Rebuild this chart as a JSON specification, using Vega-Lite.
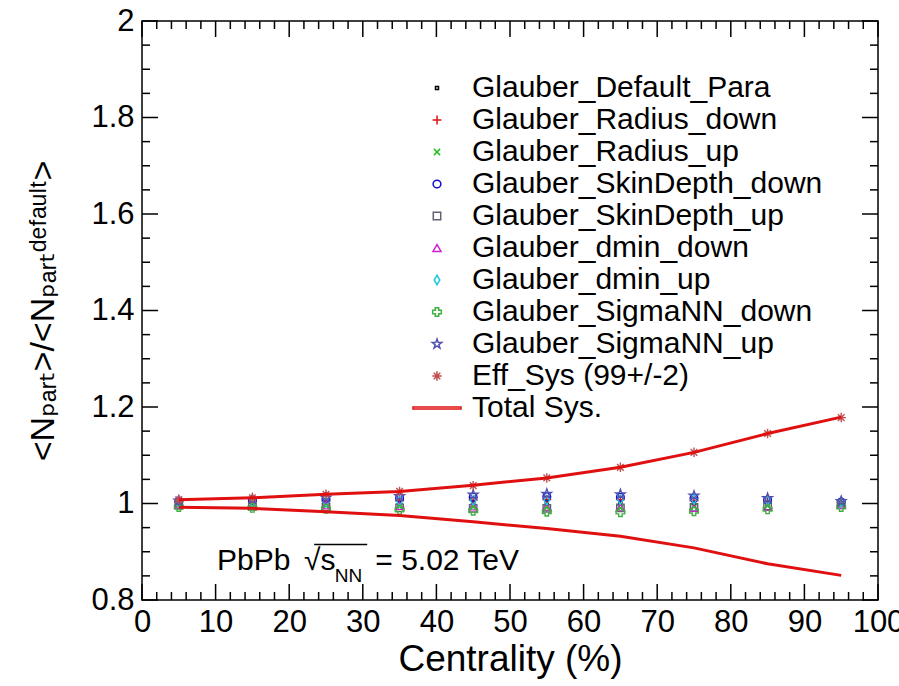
{
  "$schema": "https://vega.github.io/schema/vega-lite/v6.json",
  "width": 736,
  "height": 579,
  "autosize": {"type": "none"},
  "padding": {"left": 142, "top": 21, "right": 21, "bottom": 86},
  "background": "white",
  "config": {
    "font": "Liberation Sans",
    "view": {"stroke": "black", "strokeWidth": 1.5},
    "axis": {
      "domain": false,
      "ticks": false,
      "grid": false,
      "labelFont": "Liberation Sans",
      "labelFontSize": 31,
      "labelColor": "black",
      "titleFont": "Liberation Sans, DejaVu Sans",
      "titleFontSize": 37,
      "titleFontWeight": "normal",
      "titleColor": "black"
    },
    "legend": {
      "labelFont": "Liberation Sans",
      "labelFontSize": 30,
      "labelColor": "black",
      "labelLimit": 600,
      "rowPadding": 2
    }
  },
  "datasets": {
    "points": [
      {"series": "Glauber_Default_Para", "cent": 5, "val": 1.0},
      {"series": "Glauber_Default_Para", "cent": 15, "val": 1.0},
      {"series": "Glauber_Default_Para", "cent": 25, "val": 1.0},
      {"series": "Glauber_Default_Para", "cent": 35, "val": 1.0},
      {"series": "Glauber_Default_Para", "cent": 45, "val": 1.0},
      {"series": "Glauber_Default_Para", "cent": 55, "val": 1.0},
      {"series": "Glauber_Default_Para", "cent": 65, "val": 1.0},
      {"series": "Glauber_Default_Para", "cent": 75, "val": 1.0},
      {"series": "Glauber_Default_Para", "cent": 85, "val": 1.0},
      {"series": "Glauber_Default_Para", "cent": 95, "val": 1.0},
      {"series": "Glauber_Radius_down", "cent": 5, "val": 1.003},
      {"series": "Glauber_Radius_down", "cent": 15, "val": 1.004},
      {"series": "Glauber_Radius_down", "cent": 25, "val": 1.005},
      {"series": "Glauber_Radius_down", "cent": 35, "val": 1.006},
      {"series": "Glauber_Radius_down", "cent": 45, "val": 1.007},
      {"series": "Glauber_Radius_down", "cent": 55, "val": 1.008},
      {"series": "Glauber_Radius_down", "cent": 65, "val": 1.008},
      {"series": "Glauber_Radius_down", "cent": 75, "val": 1.006},
      {"series": "Glauber_Radius_down", "cent": 85, "val": 1.004},
      {"series": "Glauber_Radius_down", "cent": 95, "val": 1.002},
      {"series": "Glauber_Radius_up", "cent": 5, "val": 0.997},
      {"series": "Glauber_Radius_up", "cent": 15, "val": 0.996},
      {"series": "Glauber_Radius_up", "cent": 25, "val": 0.995},
      {"series": "Glauber_Radius_up", "cent": 35, "val": 0.994},
      {"series": "Glauber_Radius_up", "cent": 45, "val": 0.993},
      {"series": "Glauber_Radius_up", "cent": 55, "val": 0.992},
      {"series": "Glauber_Radius_up", "cent": 65, "val": 0.991},
      {"series": "Glauber_Radius_up", "cent": 75, "val": 0.993},
      {"series": "Glauber_Radius_up", "cent": 85, "val": 0.995},
      {"series": "Glauber_Radius_up", "cent": 95, "val": 0.998},
      {"series": "Glauber_SkinDepth_down", "cent": 5, "val": 1.005},
      {"series": "Glauber_SkinDepth_down", "cent": 15, "val": 1.007},
      {"series": "Glauber_SkinDepth_down", "cent": 25, "val": 1.009},
      {"series": "Glauber_SkinDepth_down", "cent": 35, "val": 1.011},
      {"series": "Glauber_SkinDepth_down", "cent": 45, "val": 1.013},
      {"series": "Glauber_SkinDepth_down", "cent": 55, "val": 1.014},
      {"series": "Glauber_SkinDepth_down", "cent": 65, "val": 1.013},
      {"series": "Glauber_SkinDepth_down", "cent": 75, "val": 1.011},
      {"series": "Glauber_SkinDepth_down", "cent": 85, "val": 1.007},
      {"series": "Glauber_SkinDepth_down", "cent": 95, "val": 1.003},
      {"series": "Glauber_SkinDepth_up", "cent": 5, "val": 0.996},
      {"series": "Glauber_SkinDepth_up", "cent": 15, "val": 0.994},
      {"series": "Glauber_SkinDepth_up", "cent": 25, "val": 0.992},
      {"series": "Glauber_SkinDepth_up", "cent": 35, "val": 0.991},
      {"series": "Glauber_SkinDepth_up", "cent": 45, "val": 0.99},
      {"series": "Glauber_SkinDepth_up", "cent": 55, "val": 0.99},
      {"series": "Glauber_SkinDepth_up", "cent": 65, "val": 0.991},
      {"series": "Glauber_SkinDepth_up", "cent": 75, "val": 0.992},
      {"series": "Glauber_SkinDepth_up", "cent": 85, "val": 0.995},
      {"series": "Glauber_SkinDepth_up", "cent": 95, "val": 0.998},
      {"series": "Glauber_dmin_down", "cent": 5, "val": 0.998},
      {"series": "Glauber_dmin_down", "cent": 15, "val": 0.997},
      {"series": "Glauber_dmin_down", "cent": 25, "val": 0.996},
      {"series": "Glauber_dmin_down", "cent": 35, "val": 0.995},
      {"series": "Glauber_dmin_down", "cent": 45, "val": 0.994},
      {"series": "Glauber_dmin_down", "cent": 55, "val": 0.993},
      {"series": "Glauber_dmin_down", "cent": 65, "val": 0.992},
      {"series": "Glauber_dmin_down", "cent": 75, "val": 0.991},
      {"series": "Glauber_dmin_down", "cent": 85, "val": 0.993},
      {"series": "Glauber_dmin_down", "cent": 95, "val": 0.997},
      {"series": "Glauber_dmin_up", "cent": 5, "val": 1.002},
      {"series": "Glauber_dmin_up", "cent": 15, "val": 1.003},
      {"series": "Glauber_dmin_up", "cent": 25, "val": 1.004},
      {"series": "Glauber_dmin_up", "cent": 35, "val": 1.005},
      {"series": "Glauber_dmin_up", "cent": 45, "val": 1.006},
      {"series": "Glauber_dmin_up", "cent": 55, "val": 1.007},
      {"series": "Glauber_dmin_up", "cent": 65, "val": 1.008},
      {"series": "Glauber_dmin_up", "cent": 75, "val": 1.009},
      {"series": "Glauber_dmin_up", "cent": 85, "val": 1.006},
      {"series": "Glauber_dmin_up", "cent": 95, "val": 1.003},
      {"series": "Glauber_SigmaNN_down", "cent": 5, "val": 0.993},
      {"series": "Glauber_SigmaNN_down", "cent": 15, "val": 0.991},
      {"series": "Glauber_SigmaNN_down", "cent": 25, "val": 0.989},
      {"series": "Glauber_SigmaNN_down", "cent": 35, "val": 0.987},
      {"series": "Glauber_SigmaNN_down", "cent": 45, "val": 0.985},
      {"series": "Glauber_SigmaNN_down", "cent": 55, "val": 0.983},
      {"series": "Glauber_SigmaNN_down", "cent": 65, "val": 0.982},
      {"series": "Glauber_SigmaNN_down", "cent": 75, "val": 0.984},
      {"series": "Glauber_SigmaNN_down", "cent": 85, "val": 0.988},
      {"series": "Glauber_SigmaNN_down", "cent": 95, "val": 0.993},
      {"series": "Glauber_SigmaNN_up", "cent": 5, "val": 1.006},
      {"series": "Glauber_SigmaNN_up", "cent": 15, "val": 1.009},
      {"series": "Glauber_SigmaNN_up", "cent": 25, "val": 1.012},
      {"series": "Glauber_SigmaNN_up", "cent": 35, "val": 1.015},
      {"series": "Glauber_SigmaNN_up", "cent": 45, "val": 1.018},
      {"series": "Glauber_SigmaNN_up", "cent": 55, "val": 1.02},
      {"series": "Glauber_SigmaNN_up", "cent": 65, "val": 1.019},
      {"series": "Glauber_SigmaNN_up", "cent": 75, "val": 1.016},
      {"series": "Glauber_SigmaNN_up", "cent": 85, "val": 1.011},
      {"series": "Glauber_SigmaNN_up", "cent": 95, "val": 1.005},
      {"series": "Eff_Sys (99+/-2)", "cent": 5, "val": 1.008},
      {"series": "Eff_Sys (99+/-2)", "cent": 15, "val": 1.012},
      {"series": "Eff_Sys (99+/-2)", "cent": 25, "val": 1.019},
      {"series": "Eff_Sys (99+/-2)", "cent": 35, "val": 1.025},
      {"series": "Eff_Sys (99+/-2)", "cent": 45, "val": 1.037},
      {"series": "Eff_Sys (99+/-2)", "cent": 55, "val": 1.053},
      {"series": "Eff_Sys (99+/-2)", "cent": 65, "val": 1.075},
      {"series": "Eff_Sys (99+/-2)", "cent": 75, "val": 1.106},
      {"series": "Eff_Sys (99+/-2)", "cent": 85, "val": 1.145},
      {"series": "Eff_Sys (99+/-2)", "cent": 95, "val": 1.178}
    ],
    "sys": [
      {"series": "Total Sys.", "bound": "up", "cent": 5, "val": 1.008},
      {"series": "Total Sys.", "bound": "up", "cent": 15, "val": 1.012},
      {"series": "Total Sys.", "bound": "up", "cent": 25, "val": 1.019},
      {"series": "Total Sys.", "bound": "up", "cent": 35, "val": 1.025},
      {"series": "Total Sys.", "bound": "up", "cent": 45, "val": 1.038},
      {"series": "Total Sys.", "bound": "up", "cent": 55, "val": 1.053},
      {"series": "Total Sys.", "bound": "up", "cent": 65, "val": 1.075},
      {"series": "Total Sys.", "bound": "up", "cent": 75, "val": 1.106},
      {"series": "Total Sys.", "bound": "up", "cent": 85, "val": 1.145},
      {"series": "Total Sys.", "bound": "up", "cent": 95, "val": 1.179},
      {"series": "Total Sys.", "bound": "down", "cent": 5, "val": 0.992},
      {"series": "Total Sys.", "bound": "down", "cent": 15, "val": 0.99},
      {"series": "Total Sys.", "bound": "down", "cent": 25, "val": 0.983},
      {"series": "Total Sys.", "bound": "down", "cent": 35, "val": 0.975},
      {"series": "Total Sys.", "bound": "down", "cent": 45, "val": 0.962},
      {"series": "Total Sys.", "bound": "down", "cent": 55, "val": 0.948},
      {"series": "Total Sys.", "bound": "down", "cent": 65, "val": 0.932},
      {"series": "Total Sys.", "bound": "down", "cent": 75, "val": 0.908},
      {"series": "Total Sys.", "bound": "down", "cent": 85, "val": 0.875},
      {"series": "Total Sys.", "bound": "down", "cent": 95, "val": 0.851}
    ]
  },
  "resolve": {"axis": {"x": "independent", "y": "independent"}},
  "layer": [
    {
      "data": {"name": "points"},
      "mark": {"type": "point", "filled": false, "opacity": 1, "strokeWidth": 1.4},
      "encoding": {
        "x": {
          "field": "cent", "type": "quantitative",
          "scale": {"domain": [0, 100], "nice": false, "zero": false},
          "axis": {
            "orient": "bottom",
            "title": "Centrality (%)",
            "values": [0,10,20,30,40,50,60,70,80,90,100],
            "tickSize": 0,
            "labelPadding": 7,
            "labelFlush": false,
            "labelOverlap": false,
            "titlePadding": 4
          }
        },
        "y": {
          "field": "val", "type": "quantitative",
          "scale": {"domain": [0.8, 2], "nice": false, "zero": false},
          "axis": {
            "orient": "left",
            "title": "<Nₚₐᵣₜ>/<Nₚₐᵣₜᵈᵉᶠᵃᵘˡᵗ>",
            "titleFontSize": 34,
            "values": [0.8,1,1.2,1.4,1.6,1.8,2],
            "labelExpr": "'' + datum.value",
            "tickSize": 0,
            "labelPadding": 8,
            "labelFlush": false,
            "labelOverlap": false,
            "titlePadding": 30
          }
        },
        "color": {
          "field": "series", "type": "nominal",
          "scale": {
            "domain": ["Glauber_Default_Para","Glauber_Radius_down","Glauber_Radius_up","Glauber_SkinDepth_down","Glauber_SkinDepth_up","Glauber_dmin_down","Glauber_dmin_up","Glauber_SigmaNN_down","Glauber_SigmaNN_up","Eff_Sys (99+/-2)","Total Sys."],
            "range": ["#000000","#e01010","#20c020","#1010d0","#606070","#d020d0","#20c8e0","#40b040","#5050b0","#c05050","#e01010"]
          },
          "legend": {
            "title": null,
            "orient": "none",
            "legendX": 280,
            "legendY": 52,
            "labelOffset": 20,
            "symbolLimit": 0
          }
        },
        "shape": {
          "field": "series", "type": "nominal",
          "scale": {
            "domain": ["Glauber_Default_Para","Glauber_Radius_down","Glauber_Radius_up","Glauber_SkinDepth_down","Glauber_SkinDepth_up","Glauber_dmin_down","Glauber_dmin_up","Glauber_SigmaNN_down","Glauber_SigmaNN_up","Eff_Sys (99+/-2)","Total Sys."],
            "range": ["square","M-1,0L1,0M0,-1L0,1","M-0.8,-0.8L0.8,0.8M-0.8,0.8L0.8,-0.8","circle","square","triangle-up","M0,-1L0.6,0L0,1L-0.6,0Z","cross","M0,-1L0.235,-0.324L0.951,-0.309L0.38,0.124L0.588,0.809L0,0.4L-0.588,0.809L-0.38,0.124L-0.951,-0.309L-0.235,-0.324Z","M-1,0L1,0M0,-1L0,1M-0.7,-0.7L0.7,0.7M-0.7,0.7L0.7,-0.7","M-3,-0.12L3,-0.12L3,0.12L-3,0.12Z"]
          },
          "legend": {"title": null}
        },
        "size": {
          "field": "series", "type": "nominal",
          "scale": {
            "type": "ordinal",
            "domain": ["Glauber_Default_Para","Glauber_Radius_down","Glauber_Radius_up","Glauber_SkinDepth_down","Glauber_SkinDepth_up","Glauber_dmin_down","Glauber_dmin_up","Glauber_SigmaNN_down","Glauber_SigmaNN_up","Eff_Sys (99+/-2)","Total Sys."],
            "range": [9,80,60,60,55,65,90,75,100,90,256]
          },
          "legend": {"title": null}
        }
      }
    },
    {
      "data": {"values": [{"v": 0},{"v": 10},{"v": 20},{"v": 30},{"v": 40},{"v": 50},{"v": 60},{"v": 70},{"v": 80},{"v": 90},{"v": 100}]},
      "mark": {"type": "tick", "orient": "vertical", "color": "black", "size": 16, "thickness": 1.5, "opacity": 1},
      "encoding": {
        "x": {"field": "v", "type": "quantitative", "axis": null},
        "y": {"datum": 0.8166, "type": "quantitative", "axis": null}
      }
    },
    {
      "data": {"values": [{"v": 0},{"v": 10},{"v": 20},{"v": 30},{"v": 40},{"v": 50},{"v": 60},{"v": 70},{"v": 80},{"v": 90},{"v": 100}]},
      "mark": {"type": "tick", "orient": "vertical", "color": "black", "size": 16, "thickness": 1.5, "opacity": 1},
      "encoding": {
        "x": {"field": "v", "type": "quantitative", "axis": null},
        "y": {"datum": 1.9834, "type": "quantitative", "axis": null}
      }
    },
    {
      "data": {"values": [{"v": 2},{"v": 4},{"v": 6},{"v": 8},{"v": 12},{"v": 14},{"v": 16},{"v": 18},{"v": 22},{"v": 24},{"v": 26},{"v": 28},{"v": 32},{"v": 34},{"v": 36},{"v": 38},{"v": 42},{"v": 44},{"v": 46},{"v": 48},{"v": 52},{"v": 54},{"v": 56},{"v": 58},{"v": 62},{"v": 64},{"v": 66},{"v": 68},{"v": 72},{"v": 74},{"v": 76},{"v": 78},{"v": 82},{"v": 84},{"v": 86},{"v": 88},{"v": 92},{"v": 94},{"v": 96},{"v": 98}]},
      "mark": {"type": "tick", "orient": "vertical", "color": "black", "size": 8, "thickness": 1.5, "opacity": 1},
      "encoding": {
        "x": {"field": "v", "type": "quantitative", "axis": null},
        "y": {"datum": 0.8083, "type": "quantitative", "axis": null}
      }
    },
    {
      "data": {"values": [{"v": 2},{"v": 4},{"v": 6},{"v": 8},{"v": 12},{"v": 14},{"v": 16},{"v": 18},{"v": 22},{"v": 24},{"v": 26},{"v": 28},{"v": 32},{"v": 34},{"v": 36},{"v": 38},{"v": 42},{"v": 44},{"v": 46},{"v": 48},{"v": 52},{"v": 54},{"v": 56},{"v": 58},{"v": 62},{"v": 64},{"v": 66},{"v": 68},{"v": 72},{"v": 74},{"v": 76},{"v": 78},{"v": 82},{"v": 84},{"v": 86},{"v": 88},{"v": 92},{"v": 94},{"v": 96},{"v": 98}]},
      "mark": {"type": "tick", "orient": "vertical", "color": "black", "size": 8, "thickness": 1.5, "opacity": 1},
      "encoding": {
        "x": {"field": "v", "type": "quantitative", "axis": null},
        "y": {"datum": 1.9917, "type": "quantitative", "axis": null}
      }
    },
    {
      "data": {"values": [{"v": 0.8},{"v": 1.0},{"v": 1.2},{"v": 1.4},{"v": 1.6},{"v": 1.8},{"v": 2.0}]},
      "mark": {"type": "tick", "orient": "horizontal", "color": "black", "size": 16, "thickness": 1.5, "opacity": 1},
      "encoding": {
        "y": {"field": "v", "type": "quantitative", "axis": null},
        "x": {"datum": 1.087, "type": "quantitative", "axis": null}
      }
    },
    {
      "data": {"values": [{"v": 0.8},{"v": 1.0},{"v": 1.2},{"v": 1.4},{"v": 1.6},{"v": 1.8},{"v": 2.0}]},
      "mark": {"type": "tick", "orient": "horizontal", "color": "black", "size": 16, "thickness": 1.5, "opacity": 1},
      "encoding": {
        "y": {"field": "v", "type": "quantitative", "axis": null},
        "x": {"datum": 98.913, "type": "quantitative", "axis": null}
      }
    },
    {
      "data": {"values": [{"v": 0.85},{"v": 0.9},{"v": 0.95},{"v": 1.05},{"v": 1.1},{"v": 1.15},{"v": 1.25},{"v": 1.3},{"v": 1.35},{"v": 1.45},{"v": 1.5},{"v": 1.55},{"v": 1.65},{"v": 1.7},{"v": 1.75},{"v": 1.85},{"v": 1.9},{"v": 1.95}]},
      "mark": {"type": "tick", "orient": "horizontal", "color": "black", "size": 8, "thickness": 1.5, "opacity": 1},
      "encoding": {
        "y": {"field": "v", "type": "quantitative", "axis": null},
        "x": {"datum": 0.5435, "type": "quantitative", "axis": null}
      }
    },
    {
      "data": {"values": [{"v": 0.85},{"v": 0.9},{"v": 0.95},{"v": 1.05},{"v": 1.1},{"v": 1.15},{"v": 1.25},{"v": 1.3},{"v": 1.35},{"v": 1.45},{"v": 1.5},{"v": 1.55},{"v": 1.65},{"v": 1.7},{"v": 1.75},{"v": 1.85},{"v": 1.9},{"v": 1.95}]},
      "mark": {"type": "tick", "orient": "horizontal", "color": "black", "size": 8, "thickness": 1.5, "opacity": 1},
      "encoding": {
        "y": {"field": "v", "type": "quantitative", "axis": null},
        "x": {"datum": 99.4565, "type": "quantitative", "axis": null}
      }
    },
    {
      "data": {"name": "sys"},
      "mark": {"type": "line", "strokeWidth": 3},
      "encoding": {
        "x": {"field": "cent", "type": "quantitative", "axis": null},
        "y": {"field": "val", "type": "quantitative", "axis": null},
        "color": {"field": "series", "type": "nominal", "legend": null},
        "detail": {"field": "bound"}
      }
    },
    {
      "data": {"values": [{}]},
      "mark": {"type": "text", "align": "left", "baseline": "alphabetic", "fontSize": 30, "font": "Liberation Sans", "color": "black"},
      "encoding": {
        "x": {"datum": 10.2, "type": "quantitative", "axis": null},
        "y": {"datum": 0.862, "type": "quantitative", "axis": null},
        "text": {"value": "PbPb"}
      }
    },
    {
      "data": {"values": [{}]},
      "mark": {"type": "text", "align": "left", "baseline": "alphabetic", "fontSize": 30, "font": "Liberation Sans, DejaVu Sans", "color": "black"},
      "encoding": {
        "x": {"datum": 22.0, "type": "quantitative", "axis": null},
        "y": {"datum": 0.862, "type": "quantitative", "axis": null},
        "text": {"value": "√s"}
      }
    },
    {
      "data": {"values": [{}]},
      "mark": {"type": "text", "align": "left", "baseline": "alphabetic", "fontSize": 19, "font": "Liberation Sans", "color": "black"},
      "encoding": {
        "x": {"datum": 26.2, "type": "quantitative", "axis": null},
        "y": {"datum": 0.837, "type": "quantitative", "axis": null},
        "text": {"value": "NN"}
      }
    },
    {
      "data": {"values": [{}]},
      "mark": {"type": "text", "align": "left", "baseline": "alphabetic", "fontSize": 30, "font": "Liberation Sans", "color": "black"},
      "encoding": {
        "x": {"datum": 31.7, "type": "quantitative", "axis": null},
        "y": {"datum": 0.862, "type": "quantitative", "axis": null},
        "text": {"value": "= 5.02 TeV"}
      }
    },
    {
      "data": {"values": [{}]},
      "mark": {"type": "rule", "color": "black", "strokeWidth": 1.5},
      "encoding": {
        "x": {"datum": 23.4, "type": "quantitative", "axis": null},
        "x2": {"datum": 30.6},
        "y": {"datum": 0.915, "type": "quantitative", "axis": null}
      }
    }
  ]
}
